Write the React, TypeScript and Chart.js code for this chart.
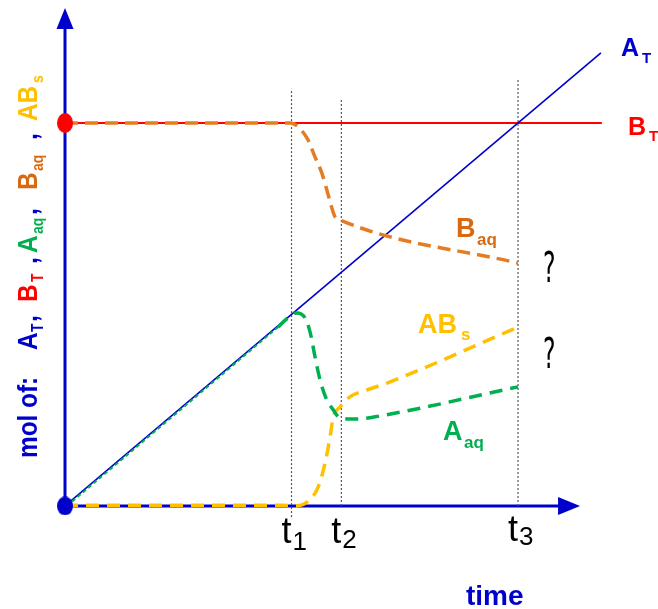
import { useEffect, useRef } from "react";
import { Chart, registerables } from "chart.js";

Chart.register(...registerables);

// ---- data (time units on x, mol units on y) ----
const T_MARKS = [5, 6.1, 10];
const T_LABELS = ["1", "2", "3"];
const T_MARK_BOTTOM = [-0.29, 0, 0];
const T_MARK_TOP = [10.89, 10.63, 11.17];

const A_TOTAL = [
  { x: 0, y: 0 },
  { x: 11.83, y: 11.83 },
];
const B_TOTAL = [
  { x: 0, y: 10 },
  { x: 11.85, y: 10 },
];
const B_AQ = [
  { x: 0, y: 10 },
  { x: 4.97, y: 10 },
  { x: 5.34, y: 9.61 },
  { x: 5.52, y: 9.11 },
  { x: 5.67, y: 8.69 },
  { x: 5.78, y: 8.25 },
  { x: 5.89, y: 7.78 },
  { x: 5.96, y: 7.55 },
  { x: 6.07, y: 7.47 },
  { x: 10, y: 6.34 },
];
const A_AQ_EARLY = [
  { x: 0.04, y: 0 },
  { x: 4.75, y: 4.72 },
];
const A_AQ = [
  { x: 4.7, y: 4.67 },
  { x: 4.92, y: 4.91 },
  { x: 5.12, y: 5.04 },
  { x: 5.3, y: 4.91 },
  { x: 5.41, y: 4.54 },
  { x: 5.52, y: 3.89 },
  { x: 5.63, y: 3.29 },
  { x: 5.76, y: 2.82 },
  { x: 5.92, y: 2.51 },
  { x: 6.07, y: 2.3 },
  { x: 6.45, y: 2.27 },
  { x: 6.95, y: 2.35 },
  { x: 10, y: 3.11 },
];
const AB_S = [
  { x: 0, y: 0.02 },
  { x: 4.8, y: 0.02 },
  { x: 5.03, y: 0 },
  { x: 5.34, y: 0.1 },
  { x: 5.59, y: 0.5 },
  { x: 5.74, y: 1.12 },
  { x: 5.85, y: 1.8 },
  { x: 5.92, y: 2.32 },
  { x: 6.07, y: 2.58 },
  { x: 6.29, y: 2.85 },
  { x: 6.67, y: 3.03 },
  { x: 7.11, y: 3.21 },
  { x: 10, y: 4.67 },
];
const DOTS = [
  { x: 0, y: 10 },
  { x: 0, y: 0 },
];
const X_AXIS_END = 11.37;
const Y_AXIS_END = 13.0;

// ---- colours ----
const BLUE = "#0000CC";
const RED = "#FF0000";
const GREEN = "#00B050";
const ORANGE_LINE = "#E57C22";
const ORANGE_TEXT = "#D9690F";
const YELLOW = "#FFC000";

function ellipse(color: string, w: number, h: number) {
  const c = document.createElement("canvas");
  c.width = w;
  c.height = h;
  const g = c.getContext("2d")!;
  g.fillStyle = color;
  g.beginPath();
  g.ellipse(w / 2, h / 2, w / 2, h / 2, 0, 0, Math.PI * 2);
  g.fill();
  return c;
}

function txt(
  ctx: CanvasRenderingContext2D,
  s: string,
  x: number,
  y: number,
  font: string,
  color: string,
  sx = 1,
  sy = 1
) {
  ctx.save();
  ctx.translate(x, y);
  ctx.scale(sx, sy);
  ctx.font = font;
  ctx.fillStyle = color;
  ctx.textAlign = "left";
  ctx.textBaseline = "alphabetic";
  ctx.fillText(s, 0, 0);
  ctx.restore();
}

function vtxt(
  ctx: CanvasRenderingContext2D,
  s: string,
  baseX: number,
  startY: number,
  font: string,
  color: string,
  sx = 0.87
) {
  ctx.save();
  ctx.translate(baseX, startY);
  ctx.rotate(-Math.PI / 2);
  ctx.scale(sx, 1);
  ctx.font = font;
  ctx.fillStyle = color;
  ctx.textAlign = "left";
  ctx.textBaseline = "alphabetic";
  ctx.fillText(s, 0, 0);
  ctx.restore();
}

const diagramPlugin = {
  id: "diagram",
  beforeDatasetsDraw(chart: any) {
    const { ctx, scales } = chart;
    const xs = scales.x;
    const ys = scales.y;
    const ox = xs.getPixelForValue(0);
    const oy = ys.getPixelForValue(0);
    const xt = xs.getPixelForValue(X_AXIS_END);
    const yt = ys.getPixelForValue(Y_AXIS_END);
    ctx.save();
    ctx.strokeStyle = BLUE;
    ctx.fillStyle = BLUE;
    ctx.lineWidth = 3;
    ctx.beginPath();
    ctx.moveTo(ox, oy);
    ctx.lineTo(xt - 18, oy);
    ctx.stroke();
    ctx.beginPath();
    ctx.moveTo(ox, oy);
    ctx.lineTo(ox, yt + 18);
    ctx.stroke();
    ctx.beginPath();
    ctx.moveTo(xt, oy);
    ctx.lineTo(xt - 22, oy - 9);
    ctx.lineTo(xt - 22, oy + 9);
    ctx.closePath();
    ctx.fill();
    ctx.beginPath();
    ctx.moveTo(ox, yt);
    ctx.lineTo(ox - 8.5, yt + 21);
    ctx.lineTo(ox + 8.5, yt + 21);
    ctx.closePath();
    ctx.fill();
    ctx.restore();
  },
  afterDraw(chart: any) {
    const { ctx, scales } = chart;
    const xs = scales.x;
    const B = "bold 28px 'Liberation Sans', Arial, sans-serif";
    const S = "bold 16px 'Liberation Sans', Arial, sans-serif";
    // y-axis title
    const bx = 37;
    const sbx = 43;
    vtxt(ctx, "mol of:", bx, 458, B, BLUE);
    vtxt(ctx, "A", bx, 350, B, BLUE);
    vtxt(ctx, "T", sbx, 332, S, BLUE);
    vtxt(ctx, ",", bx, 322, B, BLUE);
    vtxt(ctx, "B", bx, 302, B, RED);
    vtxt(ctx, "T", sbx, 282, S, RED);
    vtxt(ctx, ",", bx, 264, B, BLUE);
    vtxt(ctx, "A", bx, 253, B, GREEN);
    vtxt(ctx, "aq", sbx, 234, S, GREEN);
    vtxt(ctx, ",", bx, 215, B, BLUE);
    vtxt(ctx, "B", bx, 190, B, ORANGE_TEXT);
    vtxt(ctx, "aq", sbx, 171, S, ORANGE_TEXT);
    vtxt(ctx, ",", bx, 140, B, BLUE);
    vtxt(ctx, "AB", bx, 121, B, YELLOW);
    vtxt(ctx, "s", sbx, 83, S, YELLOW);

    const L = (n: number) => `bold ${n}px 'Liberation Sans', Arial, sans-serif`;
    txt(ctx, "A", 621, 56, L(25), BLUE);
    txt(ctx, "T", 642, 63, L(15), BLUE);
    txt(ctx, "B", 628, 135, L(25), RED);
    txt(ctx, "T", 649, 141, L(15), RED);
    txt(ctx, "B", 456, 237, L(27), ORANGE_TEXT);
    txt(ctx, "aq", 477, 245, L(17), ORANGE_TEXT);
    txt(ctx, "AB", 418, 333, L(27), YELLOW);
    txt(ctx, "s", 461, 340, L(17), YELLOW);
    txt(ctx, "A", 443, 440, L(27), GREEN);
    txt(ctx, "aq", 464, 448, L(17), GREEN);
    txt(ctx, "time", 466, 605, L(28), BLUE);

    const Q = "38px 'DejaVu Sans', 'Liberation Sans', sans-serif";
    txt(ctx, "?", 543, 282, Q, "#000", 0.62, 1.12);
    txt(ctx, "?", 543, 368, Q, "#000", 0.62, 1.12);

    const TF = "36px 'Liberation Sans', Arial, sans-serif";
    const SF = "26px 'Liberation Sans', Arial, sans-serif";
    const tb = [543, 543, 541];
    const sb = [550, 548, 545];
    T_MARKS.forEach((t, i) => {
      const px = xs.getPixelForValue(t);
      txt(ctx, "t", px - 10, tb[i], TF, "#000");
      txt(ctx, T_LABELS[i], px + 1, sb[i], SF, "#000");
    });
  },
};

export default function App() {
  const ref = useRef<HTMLCanvasElement>(null);
  useEffect(() => {
    document.body.style.margin = "0";
    const line = (
      data: any[],
      color: string,
      width: number,
      dash: number[],
      order: number
    ) => ({
      data,
      showLine: true,
      borderColor: color,
      borderWidth: width,
      borderDash: dash,
      pointRadius: 0,
      cubicInterpolationMode: "monotone" as const,
      fill: false,
      order,
      clip: false,
    });
    const markers = T_MARKS.map((t, i) => ({
      data: [
        { x: t, y: T_MARK_BOTTOM[i] },
        { x: t, y: T_MARK_TOP[i] },
      ],
      showLine: true,
      borderColor: "#555555",
      borderWidth: 1.2,
      borderDash: [2, 2],
      pointRadius: 0,
      order: 9,
    }));
    const chart = new Chart(ref.current!, {
      type: "scatter",
      data: {
        datasets: [
          {
            data: DOTS,
            pointStyle: [ellipse(RED, 16, 20), ellipse(BLUE, 16, 19)] as any,
            pointRadius: 9,
            showLine: false,
            order: 0,
            clip: false,
          } as any,
          line(A_AQ, GREEN, 3.5, [13, 8], 1),
          line(AB_S, YELLOW, 3.5, [13, 8], 2),
          line(B_AQ, ORANGE_LINE, 3.5, [13, 7], 3),
          line(A_AQ_EARLY, GREEN, 2, [4, 3], 4),
          { ...line(A_TOTAL, BLUE, 1.6, [], 5), cubicInterpolationMode: "default" },
          { ...line(B_TOTAL, RED, 2, [], 6), cubicInterpolationMode: "default" },
          ...markers,
        ],
      },
      options: {
        responsive: false,
        animation: false,
        layout: { padding: 0, autoPadding: false },
        plugins: {
          legend: { display: false },
          tooltip: { enabled: false },
        },
        scales: {
          x: { type: "linear", min: -1.435, max: 13.09, display: false },
          y: { type: "linear", min: -2.69, max: 13.211, display: false },
        },
      },
      plugins: [diagramPlugin],
    } as any);
    return () => chart.destroy();
  }, []);
  return (
    <canvas
      ref={ref}
      width={658}
      height={609}
      style={{ display: "block", width: 658, height: 609 }}
    />
  );
}
